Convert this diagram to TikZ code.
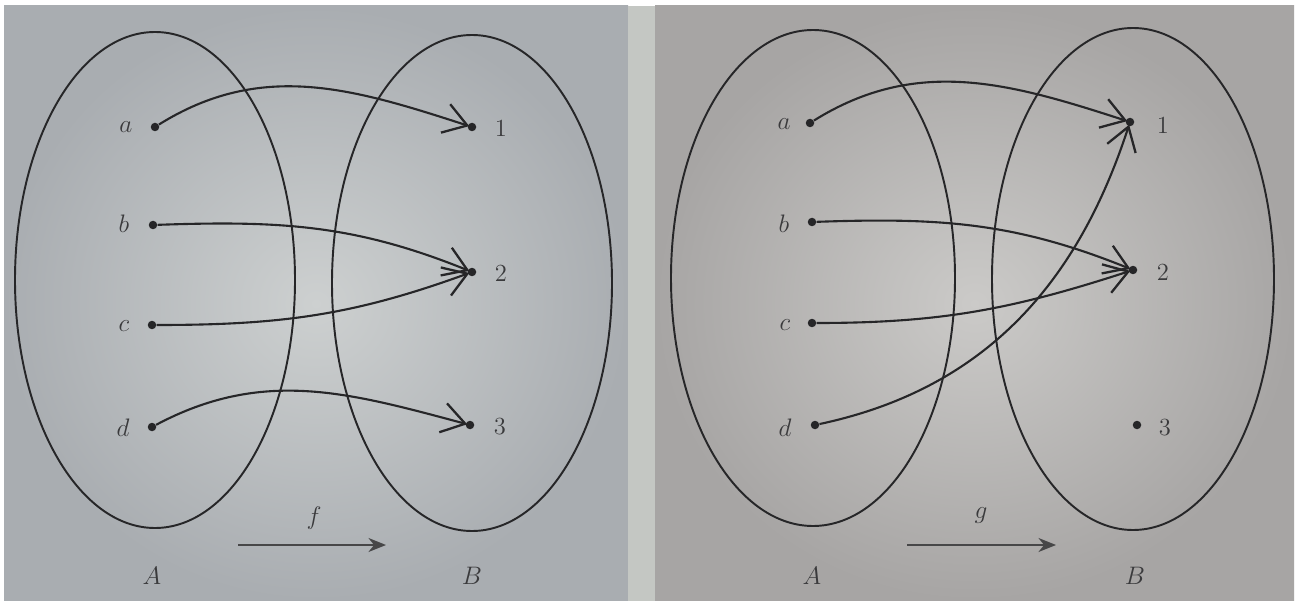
\documentclass[tikz,border=0pt]{standalone}
\usetikzlibrary{arrows.meta}
\definecolor{ink}{HTML}{262628}
\definecolor{txt}{HTML}{3A3A3C}
\definecolor{pinL}{HTML}{CDD0D0}
\definecolor{poutL}{HTML}{A9ADB1}
\definecolor{pinR}{HTML}{CBCAC8}
\definecolor{poutR}{HTML}{A7A5A4}
\definecolor{midstrip}{HTML}{C4C7C3}
\begin{document}
\begin{tikzpicture}[x=0.02cm,y=-0.02cm,
  dot/.style={circle,fill=ink,inner sep=0pt,minimum size=0.17cm},
  lab/.style={text=txt,font=\fontsize{14}{16}\selectfont,inner sep=0pt},
  setline/.style={draw=ink,line width=1.1pt},
  maparrow/.style={draw=ink,line width=1.2pt,-{Straight Barb[length=13pt,width=17pt,line width=1.3pt]},shorten >=-1pt},
  fnarrow/.style={draw=ink!85,line width=1pt,-{Stealth[length=10pt,width=8pt]}}]
\useasboundingbox (0,0) rectangle (1302,601);
\fill[white] (0,0) rectangle (1302,601);
\shade[inner color=pinL,outer color=poutL] (4,6) rectangle (628,601);
\fill[midstrip] (628,6) rectangle (655,601);
\shade[inner color=pinR,outer color=poutR] (655,6) rectangle (1294,601);

% ---------- left panel ----------
\draw[setline] (155,280) ellipse [x radius=140,y radius=248];
\draw[setline] (472,283) ellipse [x radius=140,y radius=248];
\node[dot] (la) at (155,127) {};
\node[dot] (lb) at (153,225) {};
\node[dot] (lc) at (152,325) {};
\node[dot] (ld) at (152,427) {};
\node[dot] (l1) at (472,127) {};
\node[dot] (l2) at (472,272) {};
\node[dot] (l3) at (470,425) {};
\node[lab] (lla) at (126,127) {$a$};
\node[lab] (llb) at (124,224) {$b$};
\node[lab] (llc) at (124,326) {$c$};
\node[lab] (lld) at (123,428) {$d$};
\node[lab] (ll1) at (501,128) {1};
\node[lab] (ll2) at (501,273) {2};
\node[lab] (ll3) at (500,427) {3};
\draw[maparrow] (la) to[out=32,in=162] (l1);
\draw[maparrow] (lb) to[out=2,in=158] (l2);
\draw[maparrow] (lc) to[out=0,in=200] (l2);
\draw[maparrow] (ld) to[out=28,in=165] (l3);
\coordinate (lf0) at (238,545);
\coordinate (lf1) at (386,545);
\draw[fnarrow] (lf0) -- (lf1);
\node[lab] (lf) at (314,518) {$f$};
\node[lab] (lA) at (152,576) {$A$};
\node[lab] (lB) at (472,576) {$B$};

% ---------- right panel ----------
\draw[setline] (813,278) ellipse [x radius=142,y radius=248];
\draw[setline] (1133,279) ellipse [x radius=141,y radius=251];
\node[dot] (ra) at (810,123) {};
\node[dot] (rb) at (812,222) {};
\node[dot] (rc) at (812,323) {};
\node[dot] (rd) at (815,425) {};
\node[dot] (r1) at (1130,122) {};
\node[dot] (r2) at (1133,270) {};
\node[dot] (r3) at (1137,425) {};
\node[lab] (rla) at (784,124) {$a$};
\node[lab] (rlb) at (784,224) {$b$};
\node[lab] (rlc) at (785,325) {$c$};
\node[lab] (rld) at (785,428) {$d$};
\node[lab] (rl1) at (1163,125) {1};
\node[lab] (rl2) at (1163,272) {2};
\node[lab] (rl3) at (1165,428) {3};
\draw[maparrow] (ra) to[out=32,in=162] (r1);
\draw[maparrow] (rb) to[out=2,in=158] (r2);
\draw[maparrow] (rc) to[out=0,in=198] (r2);
\draw[maparrow] (rd) to[out=12,in=252] (r1);
\coordinate (rg0) at (907,545);
\coordinate (rg1) at (1056,545);
\draw[fnarrow] (rg0) -- (rg1);
\node[lab] (rg) at (981,516) {$g$};
\node[lab] (rA) at (812,576) {$A$};
\node[lab] (rB) at (1135,576) {$B$};
\end{tikzpicture}
\end{document}
